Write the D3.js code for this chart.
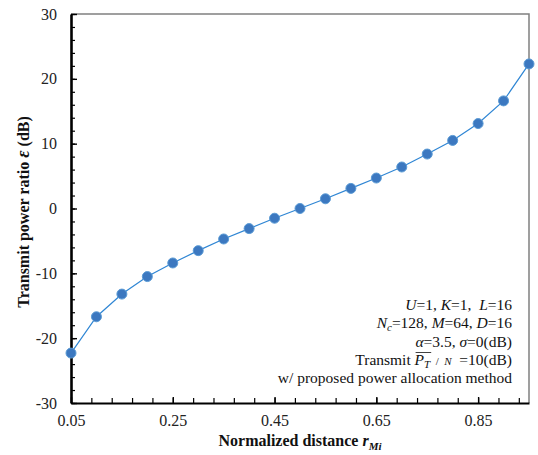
<!DOCTYPE html>
<html><head><meta charset="utf-8">
<script src="https://cdn.jsdelivr.net/npm/d3@7"></script>
<style>
body{margin:0;background:#fff;}
text{font-family:"Liberation Serif","Times New Roman",serif;}
</style></head>
<body><svg id="c" width="538" height="455"></svg>
<script>
const distances = [0.05,0.10,0.15,0.20,0.25,0.30,0.35,0.40,0.45,0.50,0.55,0.60,0.65,0.70,0.75,0.80,0.85,0.90,0.95];
const ratioDb = [-22.3,-16.7,-13.2,-10.5,-8.4,-6.5,-4.7,-3.1,-1.5,0,1.5,3.1,4.7,6.4,8.4,10.5,13.1,16.6,22.3];
const xTickLabels = [0.05,0.25,0.45,0.65,0.85];
const yTickLabels = [-30,-20,-10,0,10,20,30];

const svg = d3.select("#c");
const L=71, R=529, T=14, B=403;
const x = d3.scaleLinear().domain([0.05,0.95]).range([L,R]);
const y = d3.scaleLinear().domain([-30,30]).range([B,T]);

// frame top/right gray
svg.append("path").attr("d",`M${L},${T}H${R}V${B}`).attr("fill","none").attr("stroke","#808080").attr("stroke-width",1.5);

// minor ticks
const yMinor = d3.range(-30,30.01,2);
const xMinor = d3.range(0.05,0.951,0.04);
const gYm = svg.append("g").attr("transform",`translate(${L},0)`)
  .call(d3.axisRight(y).tickValues(yMinor).tickSize(4).tickFormat(""));
const gXm = svg.append("g").attr("transform",`translate(0,${B})`)
  .call(d3.axisTop(x).tickValues(xMinor).tickSize(5).tickFormat(""));
[gYm,gXm].forEach(g=>{g.select(".domain").remove();g.selectAll("line").attr("stroke","#000").attr("stroke-width",1.2);});

// major y axis
const gY = svg.append("g").attr("transform",`translate(${L},0)`)
  .call(d3.axisLeft(y).tickValues(yTickLabels).tickSizeInner(-6).tickSizeOuter(0).tickPadding(14).tickFormat(d=>String(d)));
gY.select(".domain").attr("stroke","#000").attr("stroke-width",2.6);
gY.selectAll("line").attr("stroke","#000").attr("stroke-width",1.4);
gY.selectAll("text").attr("font-size",16).attr("fill","#222");

const gX = svg.append("g").attr("transform",`translate(0,${B})`)
  .call(d3.axisBottom(x).tickValues(xTickLabels).tickSizeInner(-6).tickSizeOuter(0).tickPadding(12).tickFormat(d3.format(".2f")));
gX.select(".domain").attr("stroke","#000").attr("stroke-width",2.2);
gX.selectAll("line").attr("stroke","#000").attr("stroke-width",1.4);
gX.selectAll("text").attr("font-size",16).attr("fill","#222");

// line
const pts = distances.map((d,i)=>[d,ratioDb[i]]);
svg.append("path").datum(pts)
  .attr("d",d3.line().x(d=>x(d[0])).y(d=>y(d[1])))
  .attr("fill","none").attr("stroke","#2f86d4").attr("stroke-width",1.2);
svg.selectAll("circle.pt").data(pts).enter().append("circle")
  .attr("cx",d=>x(d[0])).attr("cy",d=>y(d[1])).attr("r",5)
  .attr("fill","#3c78c0").attr("stroke","#5b9bd5").attr("stroke-width",1);

// axis titles
const xt = svg.append("text").attr("x",300).attr("y",446).attr("text-anchor","middle")
  .attr("font-size",16).attr("font-weight","bold").attr("fill","#111");
xt.append("tspan").text("Normalized distance ");
xt.append("tspan").attr("font-style","italic").text("r");
xt.append("tspan").attr("font-style","italic").attr("font-size",11).attr("dy",4).text("Mi");

const yt = svg.append("text").attr("transform","translate(29,212) rotate(-90)").attr("text-anchor","middle")
  .attr("font-size",16).attr("font-weight","bold").attr("fill","#111");
yt.append("tspan").text("Transmit power ratio ");
yt.append("tspan").attr("font-style","italic").attr("font-size",18).text("ε");
yt.append("tspan").text(" (dB)");

// annotation
const ax = 512, fs = 15.5;
const NB = "\u00a0";
const ann = svg.append("g").attr("font-size",fs).attr("fill","#111");
function line(yy, parts){
  const t = ann.append("text").attr("x",ax).attr("y",yy).attr("text-anchor","end");
  parts.forEach(p=>{
    const s = t.append("tspan").text(p.t);
    if(p.i) s.attr("font-style","italic");
    if(p.sub) s.attr("font-size",11).attr("dy",p.dy);
    if(p.dy && !p.sub) s.attr("dy",p.dy);
    if(p.fs) s.attr("font-size",p.fs);
  });
  return t;
}
line(310,[{t:"U",i:1},{t:"=1, "},{t:"K",i:1},{t:"=1,"+NB+NB},{t:"L",i:1},{t:"=16"}]);
line(328,[{t:"N",i:1},{t:"c",i:1,sub:1,dy:3},{t:"=128, ",dy:-3},{t:"M",i:1},{t:"=64, "},{t:"D",i:1},{t:"=16"}]);
line(347,[{t:"α",i:1},{t:"=3.5, "},{t:"σ",i:1},{t:"=0(dB)"}]);
const tl = line(365,[{t:"Transmit"+NB},{t:"P",i:1},{t:"T",i:1,sub:1,dy:3},{t:NB+NB+"/"+NB+NB,dy:-3,fs:11},{t:"N",i:1,fs:11},{t:NB+NB+"=10(dB)"}]);
line(383,[{t:"w/"+NB+"proposed power allocation method"}]);

// overline over P_T
const node = tl.node();
const e1 = node.getExtentOfChar(9), e2 = node.getExtentOfChar(10);
const oy = 365 - 12.5;
ann.append("line").attr("x1",e1.x+1).attr("x2",e2.x+e2.width+1)
  .attr("y1",oy).attr("y2",oy).attr("stroke","#111").attr("stroke-width",0.8);
</script></body></html>
